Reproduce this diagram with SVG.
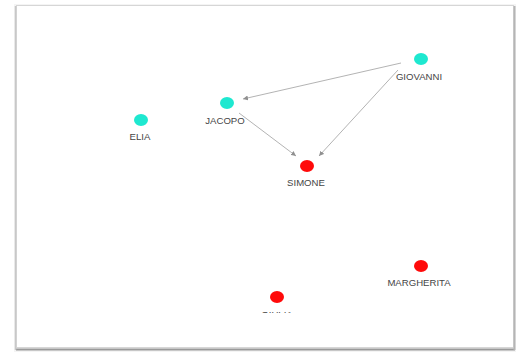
<svg xmlns="http://www.w3.org/2000/svg" width="526" height="353" viewBox="0 0 526 353">
<defs>
<style>
.lbl{font-family:"Liberation Sans",Arial,sans-serif;font-size:9.6px;fill:#454545;text-anchor:middle}
.cy{fill:#1ee8d0}
.rd{fill:#ff0a0a}
.edge{stroke:#a0a0a0;stroke-width:0.8;fill:none;marker-end:url(#ah)}
</style>
<marker id="ah" viewBox="0 0 10 10" refX="10" refY="5" markerWidth="5" markerHeight="5" orient="auto" markerUnits="userSpaceOnUse">
<path d="M0,0 L10,5 L0,10 z" fill="#909090"/>
</marker>
<clipPath id="cl"><rect x="0" y="0" width="526" height="313"/></clipPath>
</defs>
<rect x="0" y="0" width="526" height="353" fill="#ffffff"/>
<g id="frame">
<rect x="14" y="4" width="502" height="348" fill="#f4f4f4"/>
<rect x="16.5" y="5.5" width="497" height="342" fill="#ffffff" stroke="#d6d6d6" stroke-width="1"/>
<line x1="16" y1="349.5" x2="515" y2="349.5" stroke="#9a9a9a" stroke-width="2"/>
<line x1="514.5" y1="6" x2="514.5" y2="350" stroke="#b5b5b5" stroke-width="2"/>
<line x1="15.5" y1="6" x2="15.5" y2="350" stroke="#c8c8c8" stroke-width="1.5"/>
</g>
<g id="connectors">
<line class="edge" x1="401" y1="63" x2="243" y2="99"/>
<line class="edge" x1="398" y1="70" x2="319" y2="156"/>
<line class="edge" x1="239" y1="113" x2="296" y2="156"/>
</g>
<g id="GIOVANNI"><ellipse class="cy" cx="421" cy="59" rx="7" ry="6"/><text class="lbl" x="419" y="80">GIOVANNI</text></g>
<g id="JACOPO"><ellipse class="cy" cx="227" cy="103" rx="7" ry="6"/><text class="lbl" x="225" y="124">JACOPO</text></g>
<g id="ELIA"><ellipse class="cy" cx="141" cy="120" rx="7" ry="6"/><text class="lbl" x="140" y="140">ELIA</text></g>
<g id="SIMONE"><ellipse class="rd" cx="307" cy="166" rx="7" ry="6"/><text class="lbl" x="306" y="186">SIMONE</text></g>
<g id="MARGHERITA"><ellipse class="rd" cx="421" cy="266" rx="7" ry="6"/><text class="lbl" x="419" y="286">MARGHERITA</text></g>
<g id="GIULIA"><ellipse class="rd" cx="277" cy="297" rx="7" ry="6"/><text class="lbl" x="277" y="318" clip-path="url(#cl)">GIULIA</text></g>
</svg>
